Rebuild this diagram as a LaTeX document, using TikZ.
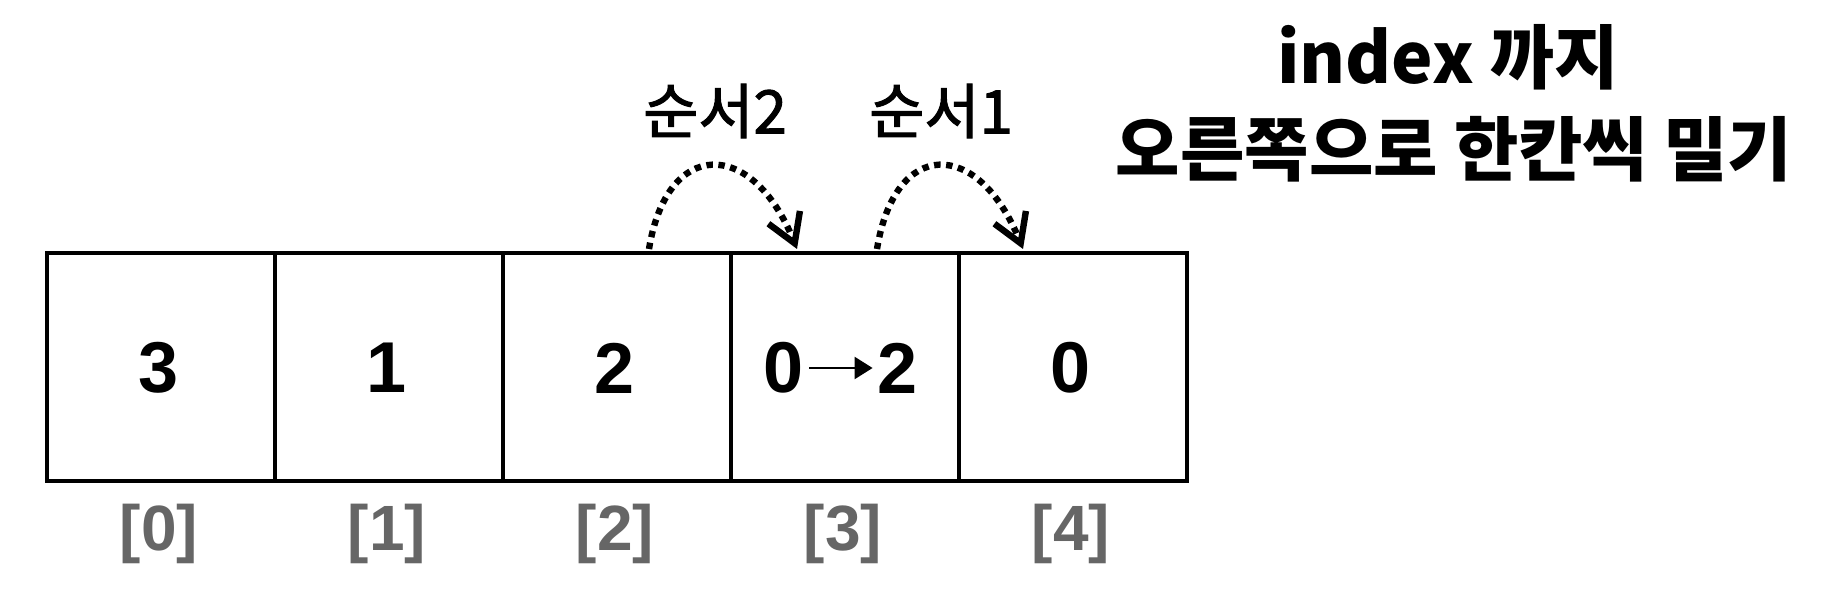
\documentclass[tikz,border=0pt]{standalone}
\usepackage{fontspec}
\setmainfont{Liberation Sans}
\newfontfamily\kr{Noto Sans CJK KR}
\newfontfamily\krm[FakeBold=1.8]{Noto Sans CJK KR}
\usetikzlibrary{arrows.meta}
\definecolor{idxgray}{HTML}{666666}
\tikzset{
  cell/.style={draw=black, line width=2pt, minimum width=114pt, minimum height=114pt, inner sep=0pt, anchor=north west},
  idx/.style={text=idxgray, font=\fontsize{32}{38}\selectfont\bfseries, inner sep=0pt},
  digit/.style={font=\fontsize{36}{44}\selectfont\bfseries, inner sep=0pt},
  order/.style={font=\krm\fontsize{30}{36}\selectfont, inner sep=0pt},
  title/.style={font=\kr\bfseries\fontsize{35}{42}\selectfont, inner sep=0pt, anchor=base},
  hop/.style={line width=3.2pt, dash pattern=on 3.2pt off 2.8pt, -{Straight Barb[length=14pt,width=17pt,line width=3.2pt]}},
  movearrow/.style={line width=1.2pt, -{Triangle[length=9pt,width=11pt]}}
}
\begin{document}
\begin{tikzpicture}[x=0.5pt,y=-0.5pt]
\useasboundingbox (0,0) rectangle (1824,598);
\node[cell] (c0) at (45,251) {};
\node[cell] (c1) at (273,251) {};
\node[cell] (c2) at (501,251) {};
\node[cell] (c3) at (729,251) {};
\node[cell] (c4) at (957,251) {};
\node[digit] (v0) at (159,368) {3};
\node[digit] (v1) at (387,368) {1};
\node[digit] (v2) at (615,368) {2};
\node[digit] (v3a) at (784,368) {0};
\node[digit] (v3b) at (898,368) {2};
\node[digit] (v4) at (1071,368) {0};
\draw[movearrow] ([xshift=2.5pt]v3a.east) -- ([xshift=-2.5pt]v3b.west);
\node[idx] (i0) at (159,534) {[0]};
\node[idx] (i1) at (387,534) {[1]};
\node[idx] (i2) at (615,534) {[2]};
\node[idx] (i3) at (843,534) {[3]};
\node[idx] (i4) at (1071,534) {[4]};
\coordinate (a1s) at (649,249);
\coordinate (a1e) at (797,249);
\coordinate (a2s) at (877,249);
\coordinate (a2e) at (1023,249);
\draw[hop] (a1s) .. controls (667,138) and (752,138) .. (a1e);
\draw[hop] (a2s) .. controls (895,138) and (978,138) .. (a2e);
\node[order] (o2) at (715,111) {순서2};
\node[order] (o1) at (941,111) {순서1};
\node[title] (t1) at (1448,84) {index 까지};
\node[title] (t2) at (1454,176) {오른쪽으로 한칸씩 밀기};
\end{tikzpicture}
\end{document}
